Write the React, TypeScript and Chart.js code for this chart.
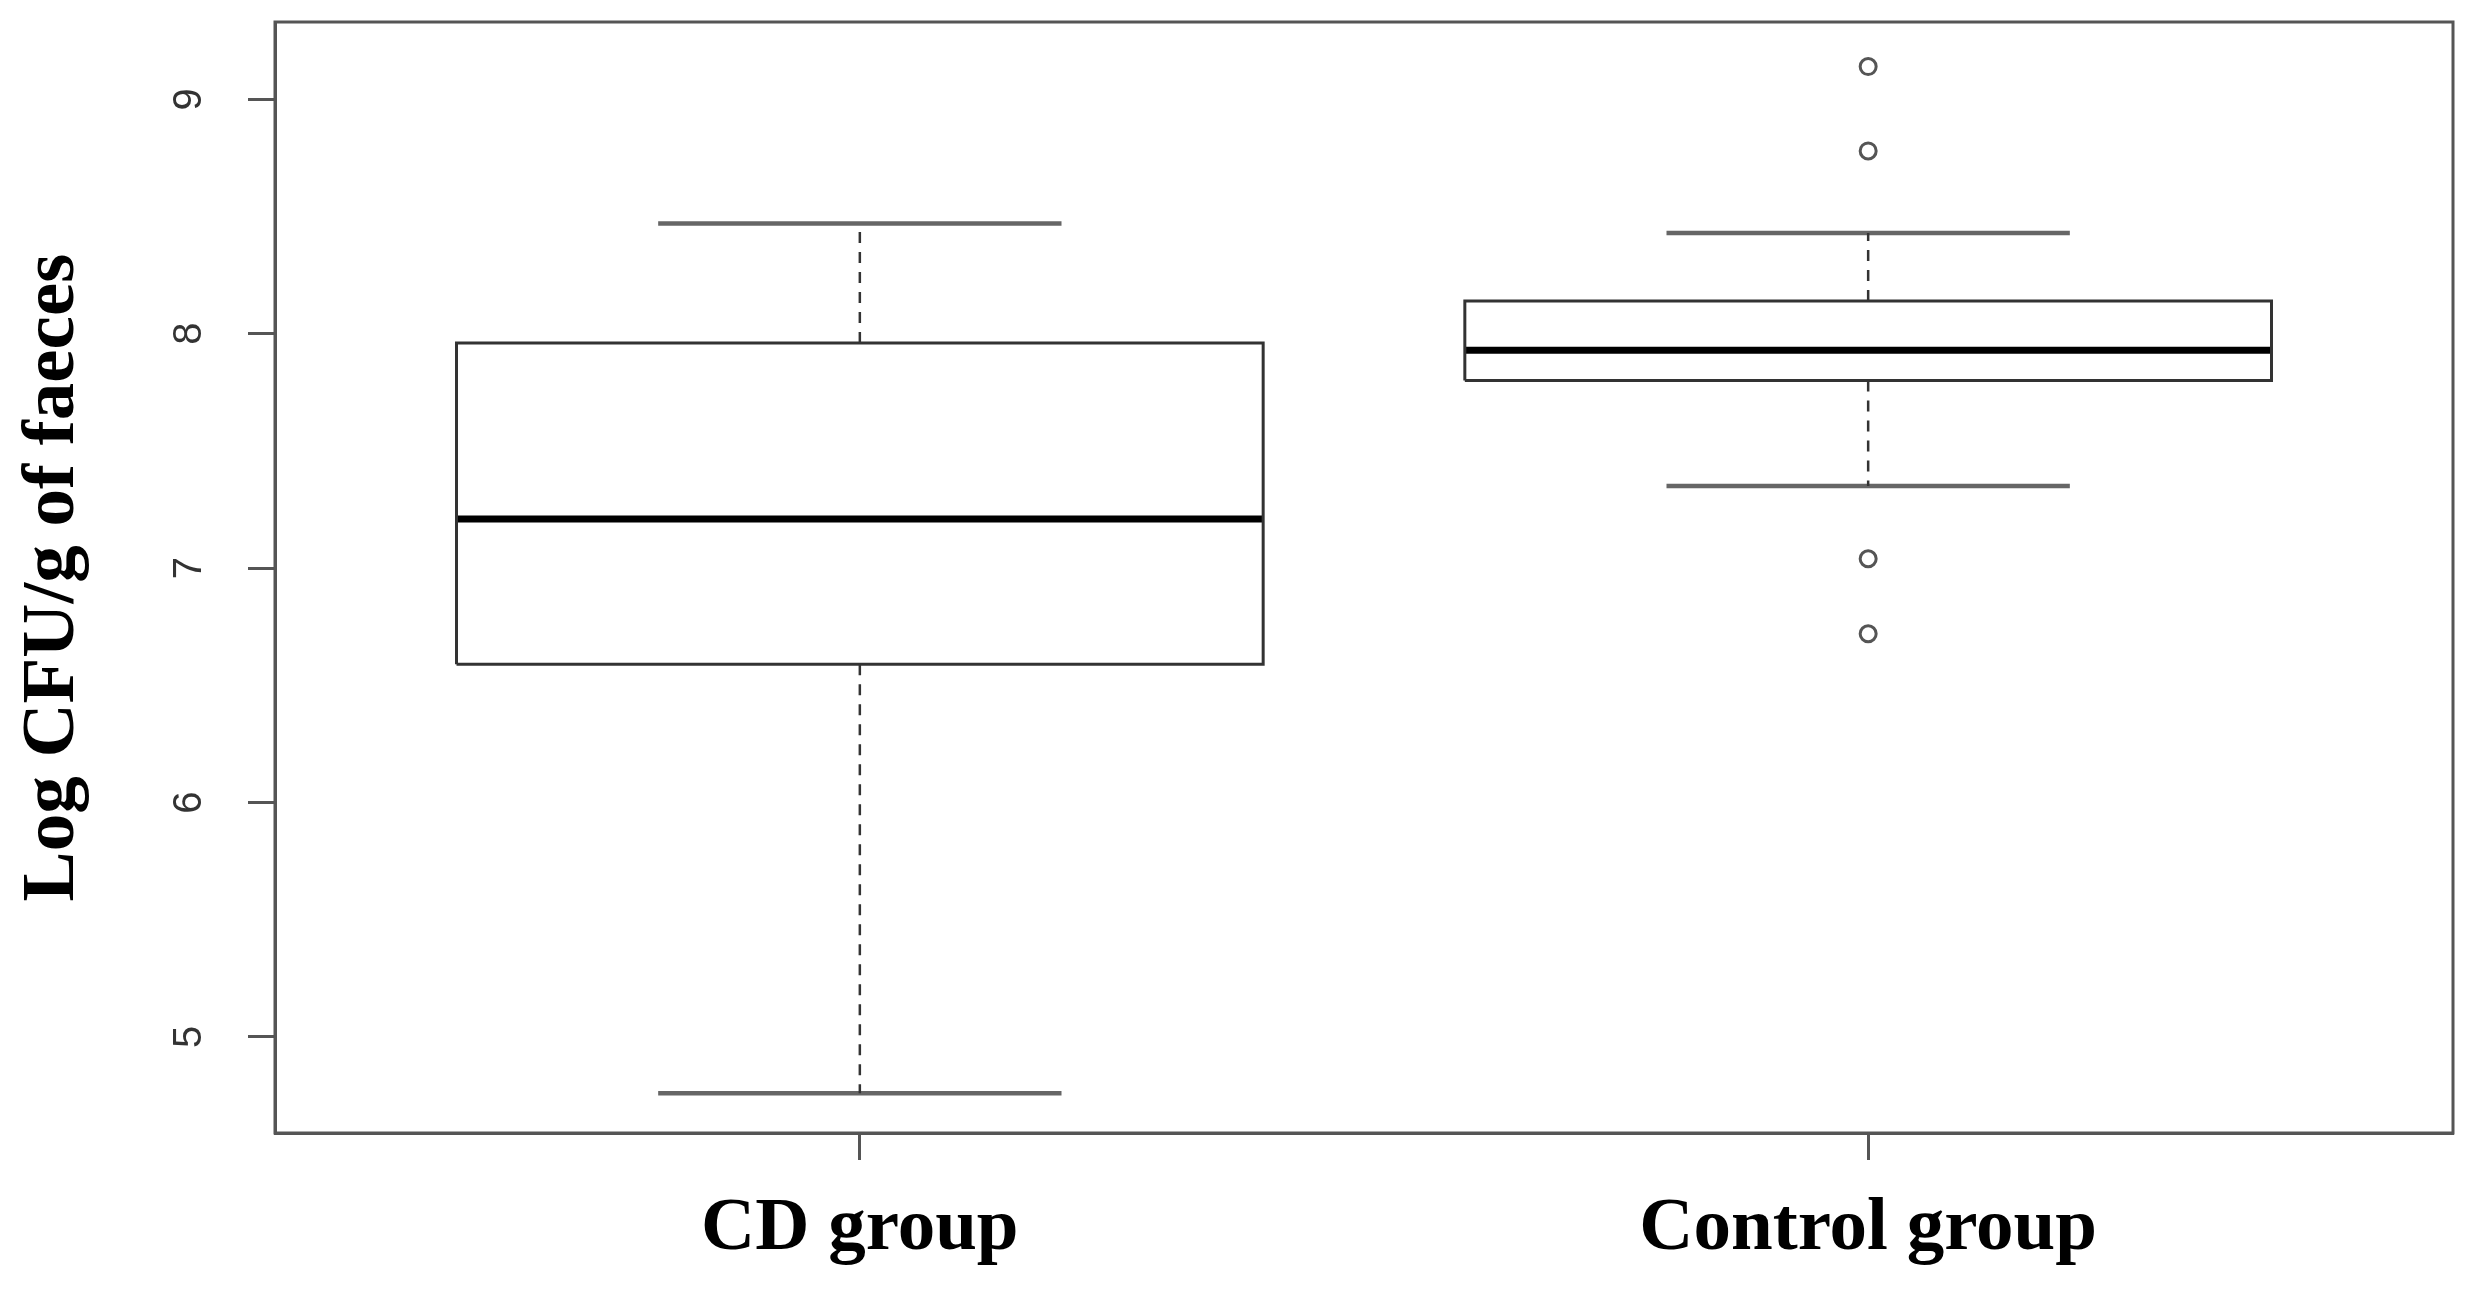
import React, { useEffect, useRef } from "react";
import { Chart, registerables } from "chart.js";

Chart.register(...registerables);

// ---- Data ----
const categories = ["CD group", "Control group"];
const positions = [1, 2];
const whiskerLow = [4.76, 7.35];
const q1 = [6.59, 7.8];
const median = [7.21, 7.93];
const q3 = [7.96, 8.14];
const whiskerHigh = [8.47, 8.43];
const outliersCD: number[] = [];
const outliersControl = [9.14, 8.78, 7.04, 6.72];
const outliers = [outliersCD, outliersControl];
const yTicks = [5, 6, 7, 8, 9];
const yMin = 4.59;
const yMax = 9.33;
const xMin = 0.42;
const xMax = 2.58;
const yTitle = "Log CFU/g of faeces";

const BOX_HALF = 0.4;
const CAP_HALF = 0.2;

const W = 2481;
const H = 1293;

function buildDatasets() {
  const ds: any[] = [];
  positions.forEach((c, i) => {
    // whiskers (dashed)
    ds.push({
      data: [
        { x: c, y: q3[i] },
        { x: c, y: whiskerHigh[i] },
      ],
      showLine: true,
      borderColor: "#333",
      borderWidth: 2.5,
      borderDash: [11, 9],
      pointRadius: 0,
    });
    ds.push({
      data: [
        { x: c, y: q1[i] },
        { x: c, y: whiskerLow[i] },
      ],
      showLine: true,
      borderColor: "#333",
      borderWidth: 2.5,
      borderDash: [11, 9],
      pointRadius: 0,
    });
    // caps
    [whiskerHigh[i], whiskerLow[i]].forEach((v) => {
      ds.push({
        data: [
          { x: c - CAP_HALF, y: v },
          { x: c + CAP_HALF, y: v },
        ],
        showLine: true,
        borderColor: "#666",
        borderWidth: 4.5,
        pointRadius: 0,
      });
    });
    // box
    ds.push({
      data: [
        { x: c - BOX_HALF, y: q1[i] },
        { x: c + BOX_HALF, y: q1[i] },
        { x: c + BOX_HALF, y: q3[i] },
        { x: c - BOX_HALF, y: q3[i] },
        { x: c - BOX_HALF, y: q1[i] },
      ],
      showLine: true,
      borderColor: "#333",
      borderWidth: 3,
      borderJoinStyle: "miter",
      backgroundColor: "#fff",
      fill: false,
      pointRadius: 0,
    });
    // median
    ds.push({
      data: [
        { x: c - BOX_HALF, y: median[i] },
        { x: c + BOX_HALF, y: median[i] },
      ],
      showLine: true,
      borderColor: "#000",
      borderWidth: 7,
      pointRadius: 0,
    });
    // outliers
    if (outliers[i].length) {
      ds.push({
        data: outliers[i].map((v) => ({ x: c, y: v })),
        showLine: false,
        pointRadius: 8,
        pointStyle: "circle",
        pointBorderColor: "#555",
        pointBackgroundColor: "rgba(255,255,255,0)",
        pointBorderWidth: 3,
      });
    }
  });
  return ds;
}

const framePlugin = {
  id: "frameAndYLabels",
  afterDraw(chart: any) {
    const { ctx, chartArea } = chart;
    ctx.save();
    ctx.strokeStyle = "#555";
    ctx.lineWidth = 3;
    ctx.strokeRect(
      chartArea.left,
      chartArea.top,
      chartArea.right - chartArea.left,
      chartArea.bottom - chartArea.top
    );
    // rotated y tick labels (R style, las = 0)
    const ys = chart.scales.y;
    ctx.fillStyle = "#333";
    ctx.font = '40px "Liberation Sans", Arial, sans-serif';
    ctx.textAlign = "center";
    ctx.textBaseline = "middle";
    ys.ticks.forEach((t: any) => {
      const py = ys.getPixelForValue(t.value);
      ctx.save();
      ctx.translate(190, py);
      ctx.rotate(-Math.PI / 2);
      ctx.fillText(String(t.value), 0, 0);
      ctx.restore();
    });
    ctx.restore();
  },
};

export default function App() {
  const ref = useRef<HTMLCanvasElement | null>(null);
  useEffect(() => {
    if (!ref.current) return;
    const chart = new Chart(ref.current, {
      type: "scatter",
      data: { datasets: buildDatasets() },
      options: {
        responsive: false,
        animation: false,
        events: [],
        layout: { padding: { top: 22, right: 28, left: 0, bottom: 0 } },
        plugins: {
          legend: { display: false },
          tooltip: { enabled: false },
        },
        scales: {
          x: {
            type: "linear",
            min: xMin,
            max: xMax,
            afterBuildTicks: (s: any) => {
              s.ticks = positions.map((v) => ({ value: v }));
            },
            afterFit: (s: any) => {
              s.height = 160;
            },
            ticks: {
              callback: (v: any) => categories[positions.indexOf(Number(v))] ?? "",
              font: { family: '"Liberation Serif", "Times New Roman", serif', size: 75, weight: "bold" },
              color: "#000",
              padding: 25,
              maxRotation: 0,
              autoSkip: false,
            },
            grid: {
              drawOnChartArea: false,
              drawTicks: true,
              tickLength: 27,
              tickWidth: 3,
              tickColor: "#555",
            },
            border: { display: true, color: "#555", width: 3 },
          },
          y: {
            type: "linear",
            min: yMin,
            max: yMax,
            afterBuildTicks: (s: any) => {
              s.ticks = yTicks.map((v) => ({ value: v }));
            },
            afterFit: (s: any) => {
              s.width = 275;
            },
            ticks: { display: false },
            grid: {
              drawOnChartArea: false,
              drawTicks: true,
              tickLength: 27,
              tickWidth: 3,
              tickColor: "#555",
            },
            border: { display: true, color: "#555", width: 3 },
            title: {
              display: true,
              text: yTitle,
              font: { family: '"Liberation Serif", "Times New Roman", serif', size: 75, weight: "bold" },
              color: "#000",
              padding: { top: 9, bottom: 0 },
            },
          },
        },
      },
      plugins: [framePlugin],
    } as any);
    return () => chart.destroy();
  }, []);
  return (
    <div style={{ position: "absolute", left: 0, top: 0, width: W, height: H, background: "#fff" }}>
      <canvas ref={ref} width={W} height={H} style={{ display: "block", width: W, height: H }} />
    </div>
  );
}
